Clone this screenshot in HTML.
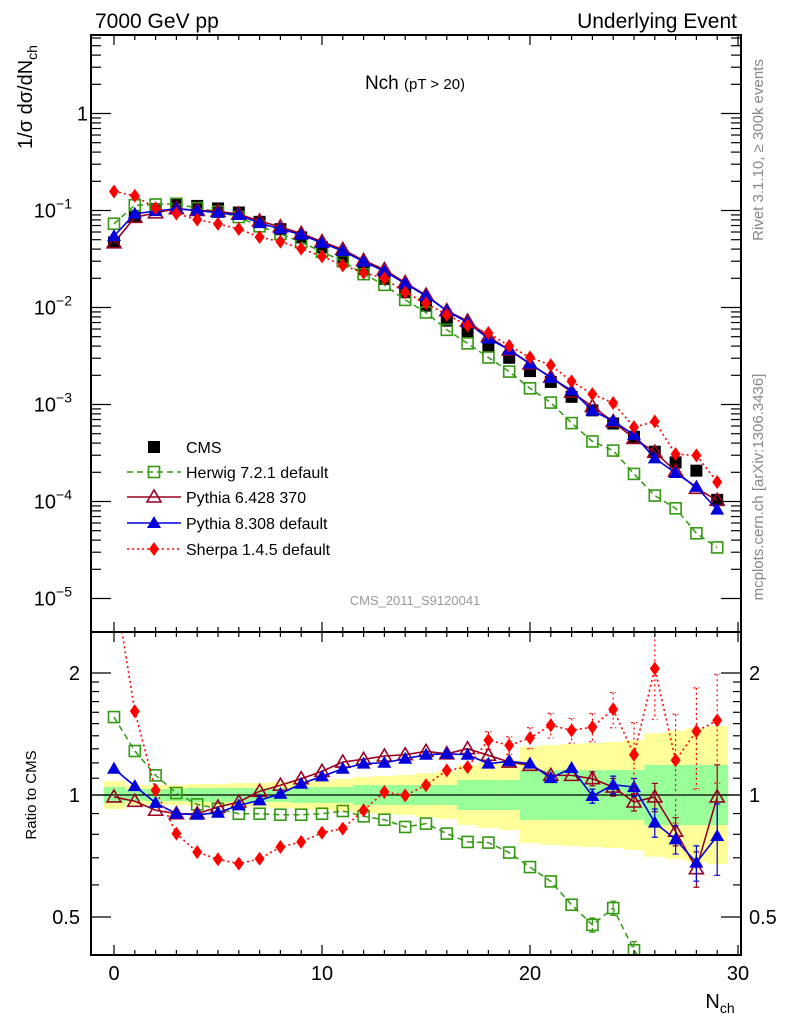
<!DOCTYPE html>
<html><head><meta charset="utf-8"><style>
body{margin:0;background:#fff;}
svg{display:block;font-family:"Liberation Sans","DejaVu Sans",sans-serif;}
</style></head><body>
<svg id="c" width="786" height="1024" viewBox="0 0 786 1024" xmlns="http://www.w3.org/2000/svg">
<defs>
<clipPath id="cm"><rect x="91" y="35" width="650" height="597"/></clipPath>
<clipPath id="cr"><rect x="91" y="632" width="650" height="323"/></clipPath>
</defs>
<g id="bands" clip-path="url(#cr)"></g>
<line x1="91" y1="795" x2="741" y2="795" stroke="#000" stroke-width="1.2"/>
<g id="mainMarks" clip-path="url(#cm)"></g>
<g id="ratioMarks" clip-path="url(#cr)"></g>
<g id="axes"></g>
<rect x="91" y="35" width="650" height="597" fill="none" stroke="#000" stroke-width="2"/>
<rect x="91" y="632" width="650" height="323" fill="none" stroke="#000" stroke-width="2"/>
<text x="95" y="28" font-size="21">7000 GeV pp</text>
<text x="737" y="28" font-size="21" text-anchor="end">Underlying Event</text>
<text x="415" y="89" font-size="19" text-anchor="middle">Nch <tspan font-size="15">(pT &gt; 20)</tspan></text>
<text x="415" y="605" font-size="13" fill="#999" text-anchor="middle">CMS_2011_S9120041</text>
<text transform="translate(32,97) rotate(-90)" font-size="20" text-anchor="middle">1/σ dσ/dN<tspan font-size="14" dy="5">ch</tspan></text>
<text transform="translate(36,795) rotate(-90)" font-size="15" text-anchor="middle">Ratio to CMS</text>
<text x="720" y="1008" font-size="20" text-anchor="middle">N<tspan font-size="14" dy="5">ch</tspan></text>
<text transform="translate(763,150) rotate(-90)" font-size="15" fill="#888" text-anchor="middle">Rivet 3.1.10, ≥ 300k events</text>
<text transform="translate(763,487) rotate(-90)" font-size="15" fill="#888" text-anchor="middle">mcplots.cern.ch [arXiv:1306.3436]</text>
<g id="legend"></g>
<script>
const nch=[0,1,2,3,4,5,6,7,8,9,10,11,12,13,14,15,16,17,18,19,20,21,22,23,24,25,26,27,28,29];
const cmsVals=[0.0469,0.0881,0.1031,0.116,0.1115,0.105,0.0953,0.0764,0.0642,0.0528,0.0417,0.0329,0.0249,0.0197,0.01436,0.01046,0.00733,0.00557,0.0040,0.00303,0.00221,0.00171,0.00120,0.00087,0.000637,0.000465,0.000326,0.000253,0.000208,0.000104];
const herwigRatio=[1.557,1.284,1.118,1.011,0.948,0.925,0.899,0.899,0.894,0.894,0.899,0.913,0.886,0.869,0.834,0.850,0.803,0.766,0.763,0.721,0.664,0.612,0.536,0.478,0.526,0.414,0.353,0.336,0.226,0.323];
const py6Ratio=[0.989,0.965,0.917,0.899,0.899,0.934,0.961,1.021,1.057,1.097,1.144,1.206,1.225,1.248,1.257,1.282,1.264,1.301,1.253,1.206,1.184,1.118,1.118,1.097,1.046,0.961,0.989,0.814,0.658,0.989];
const py8Ratio=[1.161,1.052,0.956,0.899,0.894,0.904,0.943,0.970,1.007,1.066,1.112,1.161,1.195,1.201,1.229,1.257,1.264,1.257,1.195,1.211,1.195,1.101,1.166,0.994,1.060,1.046,0.855,0.777,0.681,0.792];
const sherpaRatio=[3.35,1.609,1.027,0.803,0.723,0.694,0.677,0.696,0.744,0.766,0.807,0.826,0.917,1.017,0.998,1.057,1.150,1.172,1.365,1.326,1.383,1.486,1.444,1.471,1.628,1.257,2.05,1.218,1.436,1.528];
const herwigErr=[0,0,0,0,0,0,0,0,0,0,0,0,0,0,0,0,0,0,0,0,0,0.02,0.03,0.04,0.04,0.05,0.05,0.06,0.08,0.1];
const pyErr=[0,0,0,0,0,0,0,0,0,0,0,0,0,0,0,0,0,0,0,0,0,0.02,0.03,0.04,0.05,0.05,0.08,0.08,0.1,0.2];
const sherpaErr=[0.02,0.02,0.02,0.02,0.02,0.02,0.02,0.02,0.02,0.02,0.02,0.02,0.02,0.02,0.02,0.02,0.02,0.02,0.05,0.05,0.06,0.07,0.07,0.08,0.1,0.2,0.25,0.3,0.28,0.3];
const totErr=[0.083,0.058,0.058,0.058,0.064,0.064,0.070,0.070,0.077,0.083,0.089,0.095,0.108,0.114,0.120,0.133,0.146,0.186,0.206,0.220,0.314,0.328,0.336,0.344,0.351,0.366,0.420,0.440,0.460,0.480];
const statErr=[0.046,0.035,0.035,0.035,0.040,0.040,0.040,0.040,0.040,0.046,0.046,0.046,0.058,0.058,0.058,0.058,0.058,0.089,0.089,0.089,0.152,0.152,0.152,0.152,0.152,0.152,0.186,0.186,0.186,0.186];
const mainTickLabels=["1","10","10","10","10","10"];
const mainTickExp=["","\u22121","\u22122","\u22123","\u22124","\u22125"];
const ratioTicks=[2,1,0.5];
const xTicks=[0,10,20,30];

const NS="http://www.w3.org/2000/svg";
const X=v=>114+20.8*v;
const YM=v=>113.5-97*Math.log10(v);
const YR=r=>795-122*Math.log2(r);
function mk(tag,attrs,parent){const e=document.createElementNS(NS,tag);for(const k in attrs)e.setAttribute(k,attrs[k]);parent.appendChild(e);return e;}

const bands=document.getElementById('bands');
nch.forEach((n,i)=>{
  const y1=mk('rect',{x:X(n-0.5),y:YR(1+totErr[i]),width:20.8+0.5,height:YR(1/(1+totErr[i]))-YR(1+totErr[i]),fill:'#ffff99'},bands);
  
  
  const g=mk('rect',{x:X(n-0.5),y:YR(1+statErr[i]),width:20.8+0.5,height:YR(1/(1+statErr[i]))-YR(1+statErr[i]),fill:'#99ff99'},bands);
  
  
});

function marker(type,x,y,color,parent){
  let e;
  if(type==='sq') e=mk('rect',{x:x-6,y:y-6,width:12,height:12,fill:color},parent);
  else if(type==='osq') e=mk('rect',{x:x-5.5,y:y-5.5,width:11,height:11,fill:'none',stroke:color,'stroke-width':1.6},parent);
  else if(type==='otri') e=mk('polygon',{points:`${x},${y-7} ${x-7},${y+5} ${x+7},${y+5}`,fill:'none',stroke:color,'stroke-width':1.6},parent);
  else if(type==='tri') e=mk('polygon',{points:`${x},${y-7} ${x-7},${y+5} ${x+7},${y+5}`,fill:color},parent);
  else e=mk('polygon',{points:`${x},${y-7} ${x-5},${y} ${x},${y+7} ${x+5},${y}`,fill:color},parent);
  return e;
}
const series=[
 {name:'herwig',ratio:herwigRatio,err:herwigErr,color:'#339911',type:'osq',dash:'6,4',w:1.5,label:'Herwig 7.2.1 default'},
 {name:'pythia6',ratio:py6Ratio,err:pyErr,color:'#990022',type:'otri',dash:'',w:1.6,label:'Pythia 6.428 370'},
 {name:'pythia8',ratio:py8Ratio,err:pyErr,color:'#0000dd',type:'tri',dash:'',w:1.6,label:'Pythia 8.308 default'},
 {name:'sherpa',ratio:sherpaRatio,err:sherpaErr,color:'#ff0000',type:'dia',dash:'2,3',w:1.6,label:'Sherpa 1.4.5 default'}
];
const mm=document.getElementById('mainMarks'), rm=document.getElementById('ratioMarks');
nch.forEach((n,i)=>{
  const e=marker('sq',X(n),YM(cmsVals[i]),'#000',mm);
  
  
});
series.forEach(s=>{
  const mv=nch.map((n,i)=>cmsVals[i]*s.ratio[i]);
  const pm=mk('polyline',{points:nch.map((n,i)=>X(n)+','+YM(mv[i])).join(' '),fill:'none',stroke:s.color,'stroke-width':s.w,'stroke-dasharray':s.dash},mm);
  
  
  const pr=mk('polyline',{points:nch.map((n,i)=>X(n)+','+YR(s.ratio[i])).join(' '),fill:'none',stroke:s.color,'stroke-width':s.w,'stroke-dasharray':s.dash},rm);
  
  
  nch.forEach((n,i)=>{
    if(s.err[i]>0.03){
      const eb=mk('path',{d:`M${X(n)},${YR(s.ratio[i]*(1+s.err[i]))}V${YR(s.ratio[i]*(1-s.err[i]))}M${X(n)-3},${YR(s.ratio[i]*(1+s.err[i]))}h6M${X(n)-3},${YR(s.ratio[i]*(1-s.err[i]))}h6`,stroke:s.color,'stroke-width':1.2,fill:'none','stroke-dasharray':s.dash},rm);
      
      
    }
    const a=marker(s.type,X(n),YM(mv[i]),s.color,mm);
    
    
    const b=marker(s.type,X(n),YR(s.ratio[i]),s.color,rm);
    
    
  });
});
const ax=document.getElementById('axes');
function tick(x1,y1,x2,y2){mk('line',{x1,y1,x2,y2,stroke:'#000','stroke-width':1.2},ax);}
for(let d=0;d<=5;d++){
  const y=113.5+97*d;
  tick(91,y,111,y);tick(741,y,721,y);
  for(let k=2;k<=9;k++){const yy=y-97*Math.log10(k);if(yy>35){tick(91,yy,101,yy);tick(741,yy,731,yy);}}
  const t=mk('text',{x:88,y:y+7,'font-size':20,'text-anchor':'end'},ax);
  
  
  if(d===0){t.textContent=mainTickLabels[d];}
  else{t.setAttribute('x',72);t.textContent=mainTickLabels[d];const ts=mk('tspan',{'font-size':14,dy:-9},t);ts.textContent=mainTickExp[d];}
}
for(let v=0;v<=30;v++){
  const x=X(v);const L=(v%10===0)?10:5;
  tick(x,632,x,632-L);tick(x,35,x,35+L);tick(x,955,x,955-L);tick(x,632,x,632+L);
}
xTicks.forEach(v=>{
  const t=mk('text',{x:X(v),y:980,'font-size':20,'text-anchor':'middle'},ax);
  t.textContent=v;
  
  
});
[0.5,0.6,0.7,0.8,0.9,1,1.1,1.2,1.3,1.4,1.5,1.6,1.7,1.8,1.9,2].forEach(r=>{
  const y=YR(r);const big=ratioTicks.includes(r);const L=big?20:8;
  tick(91,y,91+L,y);tick(741,y,741-L,y);
});
ratioTicks.forEach(r=>{
  const y=YR(r)+7;
  const t=mk('text',{x:80,y,'font-size':20,'text-anchor':'end'},ax);t.textContent=r;
  
  
  const t2=mk('text',{x:749,y,'font-size':20},ax);t2.textContent=r;
  
  
});
const lg=document.getElementById('legend');
const ly=[447,472,497,523,549];
const c0=marker('sq',154,ly[0],'#000',lg);


const lt0=mk('text',{x:186,y:ly[0]+6,'font-size':16},lg);lt0.textContent='CMS';


series.forEach((s,k)=>{
  const y=ly[k+1];
  const l=mk('line',{x1:127,y1:y,x2:181,y2:y,stroke:s.color,'stroke-width':s.w,'stroke-dasharray':s.dash},lg);
  
  
  const m=marker(s.type,154,y,s.color,lg);
  
  
  const t=mk('text',{x:186,y:y+6,'font-size':16},lg);t.textContent=s.label;
  
  
});
</script>
</svg>
</body></html>
